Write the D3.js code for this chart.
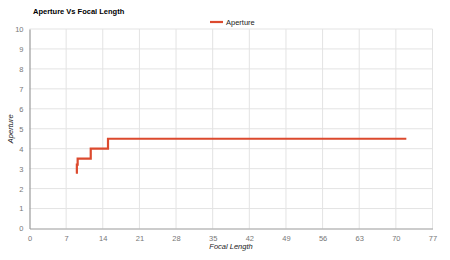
<!DOCTYPE html>
<html>
<head>
<meta charset="utf-8">
<script src="https://cdn.jsdelivr.net/npm/d3@7"></script>
<style>
  body { margin:0; background:#fff; }
  svg { font-family: Arial, "Liberation Sans", sans-serif; }
</style>
</head>
<body>
<div id="chart"></div>
<script>
var focalLengths = [8.85, 9.05, 9.2, 11.7, 15, 72]
var apertures = [2.8, 3.2, 3.5, 4.0, 4.5, 4.5]
var xTicks = [0, 7, 14, 21, 28, 35, 42, 49, 56, 63, 70, 77]
var yTicks = [0, 1, 2, 3, 4, 5, 6, 7, 8, 9, 10]

var width = 450, height = 260
var margin = { left:29.5, right:17.5, top:29, bottom:31.5 }
var lineColor = '#dc4a2e'

var svg = d3.select('#chart').append('svg')
    .attr('width', width)
    .attr('height', height)

var x = d3.scaleLinear()
    .domain([0, 77])
    .range([margin.left, width - margin.right])

var y = d3.scaleLinear()
    .domain([0, 10])
    .range([height - margin.bottom, margin.top])

// grid lines
svg.append('g')
    .selectAll('line.vx')
    .data(xTicks.slice(1))
    .enter().append('line')
    .attr('x1', function(d){ return x(d) })
    .attr('x2', function(d){ return x(d) })
    .attr('y1', y(0))
    .attr('y2', y(10))
    .attr('stroke', '#e3e3e3')
    .attr('stroke-width', 1)

svg.append('g')
    .selectAll('line.hy')
    .data(yTicks.slice(1))
    .enter().append('line')
    .attr('x1', x(0))
    .attr('x2', x(77))
    .attr('y1', function(d){ return y(d) })
    .attr('y2', function(d){ return y(d) })
    .attr('stroke', '#e3e3e3')
    .attr('stroke-width', 1)

// axes
var xAxis = svg.append('g')
    .attr('transform', 'translate(0,' + y(0) + ')')
    .call(d3.axisBottom(x).tickValues(xTicks).tickSize(0).tickPadding(7))
var yAxis = svg.append('g')
    .attr('transform', 'translate(' + x(0) + ',0)')
    .call(d3.axisLeft(y).tickValues(yTicks).tickSize(0).tickPadding(6))

;[xAxis, yAxis].forEach(function(a){
    a.select('.domain').attr('stroke', '#9a9a9a').attr('stroke-width', 1.2)
    a.selectAll('text').attr('fill', '#777').attr('font-size', '7.5px')
        .attr('font-family', 'Arial, "Liberation Sans", sans-serif')
})

// step line
var points = focalLengths.map(function(d, i){ return [d, apertures[i]] })
var line = d3.line()
    .x(function(d){ return x(d[0]) })
    .y(function(d){ return y(d[1]) })
    .curve(d3.curveStepAfter)

svg.append('path')
    .datum(points)
    .attr('d', line)
    .attr('fill', 'none')
    .attr('stroke', lineColor)
    .attr('stroke-width', 2.2)

// title
svg.append('text')
    .attr('x', 33)
    .attr('y', 14)
    .attr('font-size', '7.5px')
    .attr('font-weight', 'bold')
    .attr('fill', '#000')
    .text('Aperture Vs Focal Length')

// legend
svg.append('line')
    .attr('x1', 210).attr('x2', 223)
    .attr('y1', 22).attr('y2', 22)
    .attr('stroke', lineColor)
    .attr('stroke-width', 2.2)
svg.append('text')
    .attr('x', 226)
    .attr('y', 25)
    .attr('font-size', '7.5px')
    .attr('fill', '#222')
    .text('Aperture')

// axis titles
svg.append('text')
    .attr('x', (x(0) + x(77)) / 2)
    .attr('y', 249)
    .attr('text-anchor', 'middle')
    .attr('font-size', '7.5px')
    .attr('font-style', 'italic')
    .attr('fill', '#222')
    .text('Focal Length')

svg.append('text')
    .attr('transform', 'translate(13,' + ((y(0) + y(10)) / 2) + ') rotate(-90)')
    .attr('text-anchor', 'middle')
    .attr('font-size', '7.5px')
    .attr('font-style', 'italic')
    .attr('fill', '#222')
    .text('Aperture')
</script>
</body>
</html>
